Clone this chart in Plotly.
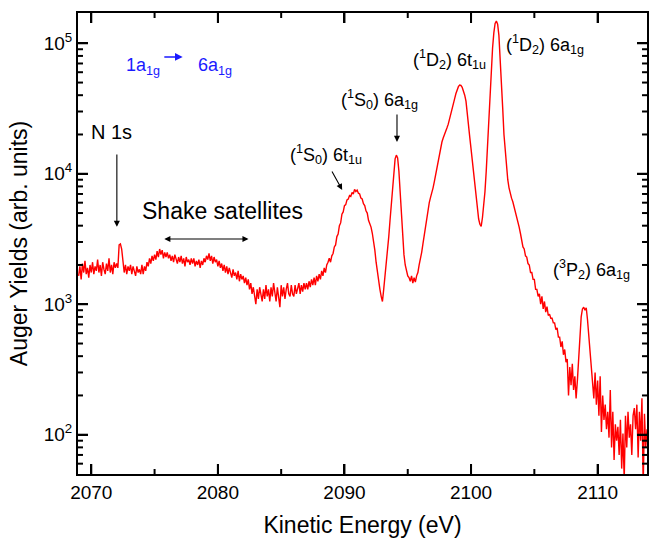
import math
import plotly.graph_objects as go

# ---- data ----
energy_start = 2069.0   # eV
energy_step = 0.1       # eV
yields = [
    1650, 1950, 1550, 2050, 1750, 2150, 1700, 1900, 1600, 2000,   # 2069
    1750, 2100, 1700, 1950, 1800, 2200, 1750, 2000, 1650, 2100,   # 2070
    1850, 1700, 2050, 1800, 2250, 1750, 2000, 1700, 2100, 1900,   # 2071
    2050, 1900, 2850, 2900, 2650, 2000, 1750, 2000, 1700, 1950,   # 2072
    1800, 2000, 1700, 1950, 1800, 1650, 1950, 1750, 1850, 1700,   # 2073
    2000, 1700, 1950, 1800, 2100, 1950, 2250, 2050, 2350, 2150,   # 2074
    2400, 2200, 2550, 2300, 2650, 2400, 2600, 2250, 2500, 2300,   # 2075
    2500, 2250, 2400, 2150, 2350, 2100, 2400, 2200, 2050, 2300,   # 2076
    2100, 2350, 2050, 2250, 1950, 2300, 2100, 2200, 2000, 2250,   # 2077
    2050, 2250, 1950, 2150, 2000, 2200, 1900, 2150, 2000, 2250,   # 2078
    2100, 2350, 2200, 2450, 2150, 2350, 2050, 2300, 2100, 2200,   # 2079
    1950, 2150, 1900, 2050, 1800, 2000, 1750, 1950, 1700, 1900,   # 2080
    1750, 1600, 1850, 1650, 1750, 1550, 1800, 1500, 1700, 1550,   # 2081
    1650, 1450, 1600, 1400, 1550, 1300, 1450, 1200, 1350, 1150,   # 2082
    1000, 1300, 1100, 1350, 1150, 1050, 1300, 1100, 1400, 1150,   # 2083
    1300, 1050, 1350, 1150, 1450, 1200, 1050, 1350, 1150, 950,    # 2084
    1400, 1150, 1350, 1100, 1300, 1450, 1200, 1150, 1400, 1200,   # 2085
    1150, 1400, 1200, 1350, 1450, 1200, 1400, 1250, 1450, 1300,   # 2086
    1450, 1300, 1500, 1350, 1550, 1400, 1600, 1400, 1650, 1500,   # 2087
    1700, 1550, 1800, 1650, 1900, 1750, 2000, 2100, 2250, 2100,   # 2088
    2350, 2450, 2750, 2850, 3300, 3450, 4000, 4200, 4900, 5100,   # 2089
    5700, 5800, 6300, 6400, 6800, 6700, 7200, 7000, 7600, 7300,   # 2090
    7500, 7100, 7000, 6500, 6400, 5900, 5700, 5200, 5000, 4400,   # 2091
    4200, 3900, 3500, 3100, 2600, 2100, 1750, 1450, 1300, 1150,   # 2092
    1050, 1300, 1600, 2100, 2700, 3300, 4400, 6000, 8000, 11000,  # 2093
    13000, 13900, 13200, 10500, 7000, 4600, 3200, 2400, 2000, 1750,  # 2094
    1650, 1600, 1500, 1650, 1450, 1600, 1480, 1650, 1750, 2000,   # 2095
    2200, 2500, 2900, 3400, 4000, 4600, 5300, 6000, 6600, 7100,   # 2096
    7800, 8700, 9800, 11200, 13000, 14800, 16200, 17500, 18800, 19800,  # 2097
    21000, 22500, 24000, 26000, 28500, 31000, 34000, 37500, 41000, 44000,  # 2098
    46500, 47800, 47500, 46000, 43500, 40000, 36000, 30000, 24000, 19000,  # 2099
    15500, 12500, 9800, 7800, 6200, 5200, 4500, 4100, 3950, 4600,  # 2100
    5600, 7300, 10500, 17000, 28000, 44000, 65000, 92000, 120000, 142000,  # 2101
    148000, 140000, 115000, 80000, 52000, 32000, 20000, 14500, 11000, 9000,  # 2102
    7800, 7000, 6500, 6100, 5600, 5200, 4700, 4300, 3900, 3500,   # 2103
    3100, 2750, 2650, 2350, 2300, 2050, 2000, 1750, 1750, 1550,   # 2104
    1550, 1300, 1300, 1150, 1200, 1000, 1150, 920, 1050, 870,     # 2105
    960, 820, 840, 780, 780, 720, 720, 640, 660, 560,             # 2106
    560, 470, 520, 410, 450, 360, 380, 200, 330, 240,             # 2107
    350, 220, 280, 190, 260, 400, 600, 800, 920, 950,             # 2108
    900, 940, 760, 560, 420, 320, 250, 190, 300, 170,             # 2109
    260, 140, 280, 105, 200, 130, 170, 110, 150, 95,              # 2110
    220, 80, 150, 64, 120, 90, 115, 70, 130, 55,                  # 2111
    102, 45, 140, 80, 150, 95, 120, 70, 140, 160,                 # 2112
    110, 170, 67, 150, 90, 190, 40, 145, 80, 110,                 # 2113
]
energy = [round(energy_start + energy_step * i, 2) for i in range(len(yields))]

x_range = [2068.95, 2113.9]
y_range_log = [1.699, 5.232]
x_ticks = [2070, 2080, 2090, 2100, 2110]
x_minor_ticks = [2075, 2085, 2095, 2105]
y_ticks = [100, 1000, 10000, 100000]
y_ticktext = ["10<sup>2</sup>", "10<sup>3</sup>", "10<sup>4</sup>", "10<sup>5</sup>"]
y_minor_ticks = [m * 10 ** e for e in range(1, 6) for m in range(2, 10)]

FONT = "Liberation Sans, Arial, sans-serif"
W, H = 649, 541
M_L, M_R, M_T, M_B = 78, 0, 13, 67

fig = go.Figure()
fig.add_trace(go.Scatter(x=energy, y=yields, mode="lines",
                         line=dict(color="#ff0000", width=1.4),
                         showlegend=False, hoverinfo="skip"))

# inward tick marks on all four sides, built from the tick lists and axis ranges
plot_w = W - M_L - M_R
plot_h = H - M_T - M_B
dx_px = (x_range[1] - x_range[0]) / plot_w
dy_px = (y_range_log[1] - y_range_log[0]) / plot_h
tx, ty = [], []
def add_x_tick(v, length):
    tx.extend([v, v, None, v, v, None])
    ty.extend([10 ** y_range_log[0], 10 ** (y_range_log[0] + length * dy_px), None,
               10 ** y_range_log[1], 10 ** (y_range_log[1] - length * dy_px), None])
def add_y_tick(v, length):
    lv = math.log10(v)
    if not (y_range_log[0] < lv < y_range_log[1]):
        return
    tx.extend([x_range[0], x_range[0] + length * dx_px, None,
               x_range[1], x_range[1] - length * dx_px, None])
    ty.extend([v, v, None, v, v, None])
for v in x_ticks:
    add_x_tick(v, 10)
for v in x_minor_ticks:
    add_x_tick(v, 5)
for v in y_ticks:
    add_y_tick(v, 10)
for v in y_minor_ticks:
    add_y_tick(v, 5)
fig.add_trace(go.Scatter(x=tx, y=ty, mode="lines", line=dict(color="black", width=2),
                         showlegend=False, hoverinfo="skip", connectgaps=False))

fig.update_layout(
    xaxis=dict(showline=True, linecolor="black", linewidth=2, mirror="allticks",
               ticks="inside", ticklen=10, tickwidth=2, tickcolor="black",
               showgrid=False, zeroline=False,
               range=x_range, tickmode="array", tickvals=x_ticks,
               tickfont=dict(family=FONT, size=19, color="black"),
               title=dict(text="Kinetic Energy (eV)",
                          font=dict(family=FONT, size=23, color="black"), standoff=15)),
    yaxis=dict(showline=True, linecolor="black", linewidth=2, mirror="allticks",
               ticks="inside", ticklen=10, tickwidth=2, tickcolor="black",
               showgrid=False, zeroline=False,
               type="log", range=y_range_log,
               tickmode="array", tickvals=y_ticks, ticktext=y_ticktext,
               tickfont=dict(family=FONT, size=19, color="black"),
               title=dict(text="Auger Yields (arb. units)",
                          font=dict(family=FONT, size=23, color="black"), standoff=10)),
)

ann_font = dict(family=FONT, size=18, color="black")
blue_font = dict(family=FONT, size=18, color="#1a1aff")

annotations = [
    # blue transition label
    dict(x=2074.07, y=4.82, text="1a<sub>1g</sub>", font=blue_font, showarrow=False),
    dict(x=2079.78, y=4.82, text="6a<sub>1g</sub>", font=blue_font, showarrow=False),
    dict(x=2077.22, y=4.895, ax=2075.65, ay=4.895, axref="x", ayref="y", text="",
         showarrow=True, arrowhead=2, arrowsize=1.1, arrowwidth=1.4, arrowcolor="#1a1aff"),
    # N 1s
    dict(x=2071.6, y=4.32, text="N 1s", font=dict(family=FONT, size=20, color="black"),
         showarrow=False),
    dict(x=2072.02, y=3.593, ax=2072.02, ay=4.159, axref="x", ayref="y", text="",
         showarrow=True, arrowhead=2, arrowsize=1.1, arrowwidth=1.1, arrowcolor="black"),
    # Shake satellites
    dict(x=2080.33, y=3.715, text="Shake satellites",
         font=dict(family=FONT, size=23, color="black"), showarrow=False),
    dict(x=2082.42, y=3.50, ax=2075.65, ay=3.50, axref="x", ayref="y", text="",
         showarrow=True, arrowhead=2, startarrowhead=2, arrowside="end+start",
         arrowsize=1.1, arrowwidth=1.1, arrowcolor="black"),
    # (1S0) 6t1u
    dict(x=2088.52, y=4.144, text="(<sup>1</sup>S<sub>0</sub>) 6t<sub>1u</sub>",
         font=ann_font, showarrow=False),
    dict(x=2089.82, y=3.876, ax=2088.95, ay=4.029, axref="x", ayref="y", text="",
         showarrow=True, arrowhead=2, arrowsize=1.1, arrowwidth=1.1, arrowcolor="black"),
    # (1S0) 6a1g
    dict(x=2092.77, y=4.566, text="(<sup>1</sup>S<sub>0</sub>) 6a<sub>1g</sub>",
         font=ann_font, showarrow=False),
    dict(x=2094.15, y=4.244, ax=2094.15, ay=4.466, axref="x", ayref="y", text="",
         showarrow=True, arrowhead=2, arrowsize=1.1, arrowwidth=1.1, arrowcolor="black"),
    # (1D2) 6t1u
    dict(x=2098.32, y=4.872, text="(<sup>1</sup>D<sub>2</sub>) 6t<sub>1u</sub>",
         font=ann_font, showarrow=False),
    # (1D2) 6a1g
    dict(x=2105.88, y=4.987, text="(<sup>1</sup>D<sub>2</sub>) 6a<sub>1g</sub>",
         font=ann_font, showarrow=False),
    # (3P2) 6a1g
    dict(x=2109.5, y=3.263, text="(<sup>3</sup>P<sub>2</sub>) 6a<sub>1g</sub>",
         font=ann_font, showarrow=False),
]
for a in annotations:
    a.setdefault("xref", "x")
    a.setdefault("yref", "y")
fig.update_layout(annotations=annotations)

fig.update_layout(width=W, height=H,
                  margin=dict(l=M_L, r=M_R, t=M_T, b=M_B),
                  paper_bgcolor="white", plot_bgcolor="white",
                  font=dict(family=FONT, color="black"))

fig.write_html("out.html")
